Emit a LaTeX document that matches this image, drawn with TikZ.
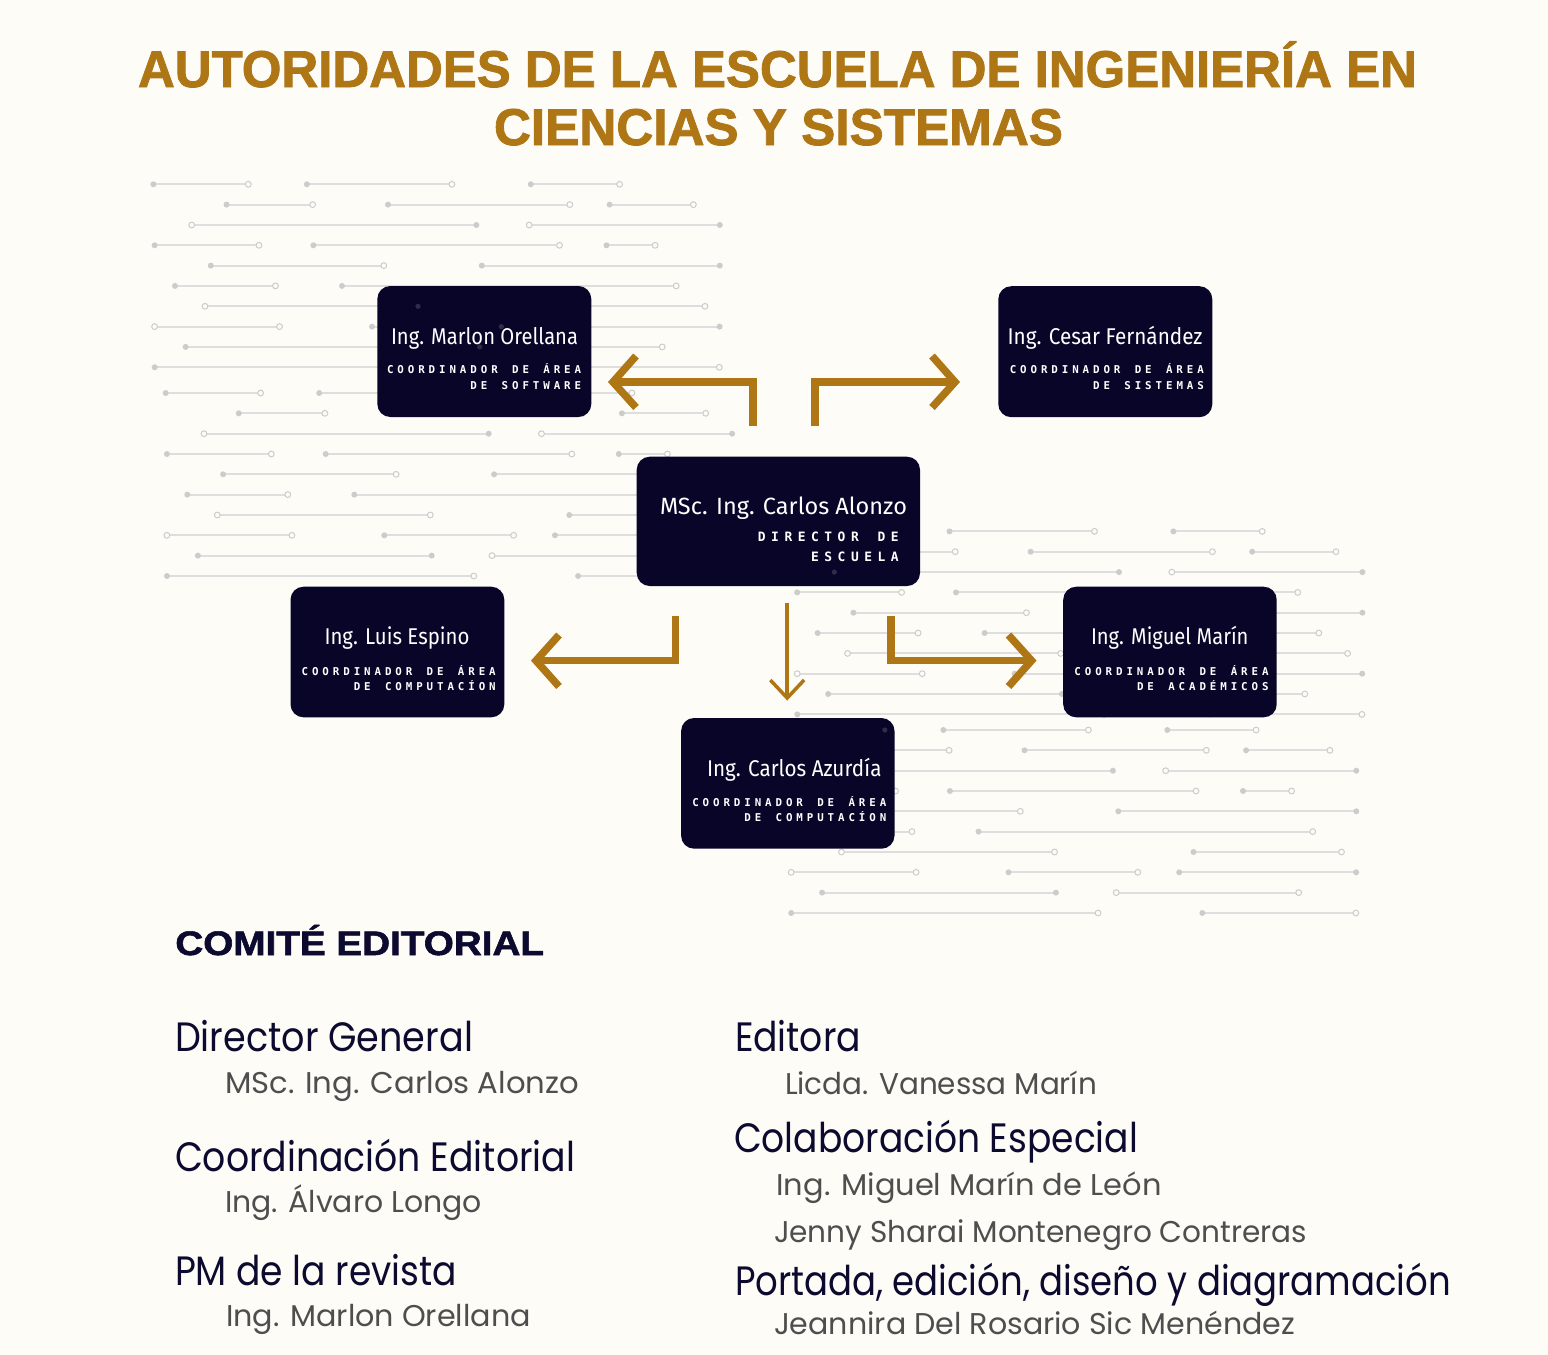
\documentclass[tikz,border=0pt]{standalone}
\usepackage{fontspec}
\usepackage{graphicx}
\newfontfamily\titlefont{Liberation Sans}[BoldFeatures={FakeBold=1.6}]
\newfontfamily\namefont{Fira Sans}
\newfontfamily\monofont{DejaVu Sans Mono}
\newfontfamily\bodyfont{Poppins}
\definecolor{bgcream}{RGB}{253,252,247}
\definecolor{titlegold}{RGB}{174,118,20}
\definecolor{boxnavy}{RGB}{9,5,41}
\definecolor{patline}{RGB}{222,222,222}
\definecolor{patdot}{RGB}{204,204,204}
\definecolor{ghostdot}{RGB}{46,44,72}
\definecolor{headnavy}{RGB}{12,10,46}
\definecolor{subgray}{RGB}{78,78,78}
\newsavebox\fitbox
\newcommand\fitw[2]{\sbox\fitbox{#2}\pgfmathsetmacro\fitfac{#1/\the\wd\fitbox}\scalebox{\fitfac}[1]{\usebox\fitbox}}
\ExplSyntaxOn
\NewDocumentCommand\monospaced{mm}{\str_map_inline:nn{#2}{\makebox[#1][c]{##1}}}
\ExplSyntaxOff
\newcommand\patF[2]{\fill[patdot] (#1,#2) circle[radius=3];}
\newcommand\patO[2]{\filldraw[draw=patdot,fill=bgcream,line width=1pt] (#1,#2) circle[radius=2.9];}
\newcommand\seg[5]{\draw[patline,line width=2pt] (#1,#5) -- (#3,#5);\csname pat#2\endcsname{#1}{#5}\csname pat#4\endcsname{#3}{#5}}
\newcommand\tile{%
\seg{153.4}{F}{248.3}{O}{184.3}\seg{306.9}{F}{451.9}{O}{184.3}\seg{530.8}{F}{619.6}{O}{184.3}%
\seg{226.5}{F}{312.6}{O}{204.6}\seg{388}{F}{569.8}{O}{204.6}\seg{609.6}{F}{693.4}{O}{204.6}%
\seg{191.7}{O}{476.4}{F}{225.0}\seg{529.2}{O}{719.8}{F}{225.0}%
\seg{154.6}{F}{259}{O}{245.3}\seg{313.4}{F}{559.5}{O}{245.3}\seg{606.5}{F}{655.1}{O}{245.3}%
\seg{210.8}{F}{383.8}{O}{265.6}\seg{481.8}{F}{719.8}{F}{265.6}%
\seg{175}{F}{275.5}{O}{285.9}\seg{342}{F}{676.2}{O}{285.9}%
\seg{205}{O}{418}{O}{306.3}\seg{557}{F}{705}{O}{306.3}%
\seg{154.6}{O}{279.6}{O}{326.6}\seg{372}{F}{501.3}{O}{326.6}\seg{542.7}{F}{719.6}{F}{326.6}%
\seg{185.6}{F}{419.4}{F}{346.9}\seg{479.7}{O}{662.2}{O}{346.9}%
\seg{154.7}{F}{461.5}{O}{367.3}\seg{565.8}{F}{719.3}{O}{367.3}%
}
\tikzset{
  every node/.style={inner sep=0pt,outer sep=0pt},
  orgbox/.style={fill=boxnavy,rounded corners=13pt,draw=none},
  nm/.style={anchor=base west,text=white,font={\namefont\fontsize{22.8}{26}\selectfont}},
  nmbig/.style={anchor=base west,text=white,font={\namefont\fontsize{23.5}{27}\selectfont}},
  rolesub/.style={text=white,font={\monofont\bfseries\fontsize{10.8}{12}\selectfont}},
  rolebig/.style={text=white,font={\monofont\bfseries\fontsize{12.9}{14}\selectfont}},
  garrow/.style={draw=titlegold,line width=7.5pt,line join=miter,miter limit=10},
  gthin/.style={draw=titlegold,line width=3.5pt,line join=miter,miter limit=10},
  ttl/.style={anchor=base west,text=titlegold,font={\titlefont\bfseries\fontsize{51.7}{60}\selectfont}},
  comite/.style={anchor=base west,text=headnavy,font={\titlefont\bfseries\fontsize{34}{40}\selectfont}},
  head/.style={anchor=base west,text=headnavy,font={\bodyfont\fontsize{41}{48}\selectfont}},
  subn/.style={anchor=base west,text=subgray,font={\bodyfont\fontsize{30}{36}\selectfont}},
}
\begin{document}
\begin{tikzpicture}[x=1pt,y=-1pt]
\useasboundingbox (0,0) rectangle (1548,1355);
\fill[bgcream] (0,0) rectangle (1548,1355);
% decorative pattern
\begin{scope}\tile\end{scope}
\begin{scope}[shift={(12.3,208.7)}]\tile\end{scope}
\begin{scope}[shift={(642.6,347.1)}]\tile\end{scope}
\begin{scope}[shift={(636.5,545.7)}]\tile\end{scope}
% title
\node[ttl] (title1) at (138,87) {\fitw{1279}{AUTORIDADES DE LA ESCUELA DE INGENIERÍA EN}};
\node[ttl] (title2) at (494,145) {\fitw{569}{CIENCIAS Y SISTEMAS}};
% boxes
\node[orgbox,minimum width=214pt,minimum height=131pt] (marlon) at (484.3,351.5) {};
\node[orgbox,minimum width=214pt,minimum height=131pt] (cesar) at (1105.3,351.7) {};
\node[orgbox,minimum width=283.3pt,minimum height=129.3pt] (director) at (778.35,521.35) {};
\node[orgbox,minimum width=213.8pt,minimum height=130.6pt] (luis) at (397.4,652) {};
\node[orgbox,minimum width=213.5pt,minimum height=130.6pt] (miguel) at (1169.95,652) {};
\node[orgbox,minimum width=213.4pt,minimum height=130.7pt] (azurdia) at (787.8,783.35) {};
% faint dots seen through boxes
\foreach \gx/\gy in {418/306.3,501.3/326.6,479.7/346.9,834.3/572.1,884.8/730}
  \fill[ghostdot] (\gx,\gy) circle[radius=2.6];
% names
\node[nm] (marlonname) at (391,344) {\fitw{187}{Ing. Marlon Orellana}};
\node[nm] (cesarname) at (1007.5,344) {\fitw{195}{Ing. Cesar Fernández}};
\node[nmbig] (directorname) at (660,514) {\fitw{247}{MSc. Ing. Carlos Alonzo}};
\node[nm] (luisname) at (324.5,644) {\fitw{145}{Ing. Luis Espino}};
\node[nm] (miguelname) at (1091,644) {\fitw{157.5}{Ing. Miguel Marín}};
\node[nm] (azurdianame) at (707,776.7) {\fitw{174.5}{Ing. Carlos Azurdía}};
% roles
\node[rolesub,anchor=base west] (marlonr1) at (385.1,373.7) {\monospaced{10.42pt}{COORDINADOR DE ÁREA}};
\node[rolesub,anchor=base east] (marlonr2) at (583.1,389.3) {\monospaced{10.42pt}{DE SOFTWARE}};
\node[rolesub,anchor=base west] (cesarr1) at (1007.8,373.3) {\monospaced{10.42pt}{COORDINADOR DE ÁREA}};
\node[rolesub,anchor=base east] (cesarr2) at (1205.8,389.3) {\monospaced{10.42pt}{DE SISTEMAS}};
\node[rolebig,anchor=base west] (directorr1) at (755.15,541.7) {\monospaced{13.3pt}{DIRECTOR DE}};
\node[rolebig,anchor=base east] (directorr2) at (901.45,561.7) {\monospaced{13.3pt}{ESCUELA}};
\node[rolesub,anchor=base west] (luisr1) at (299.7,675) {\monospaced{10.42pt}{COORDINADOR DE ÁREA}};
\node[rolesub,anchor=base east] (luisr2) at (497.7,690) {\monospaced{10.42pt}{DE COMPUTACÍON}};
\node[rolesub,anchor=base west] (miguelr1) at (1072.5,675) {\monospaced{10.42pt}{COORDINADOR DE ÁREA}};
\node[rolesub,anchor=base east] (miguelr2) at (1270.5,690) {\monospaced{10.42pt}{DE ACADÉMICOS}};
\node[rolesub,anchor=base west] (azurdiar1) at (690.3,806) {\monospaced{10.42pt}{COORDINADOR DE ÁREA}};
\node[rolesub,anchor=base east] (azurdiar2) at (888.3,821.7) {\monospaced{10.42pt}{DE COMPUTACÍON}};
% arrow coordinates
\coordinate (a1s) at (753,426); \coordinate (a1c) at (753,382); \coordinate (a1t) at (613,382);
\coordinate (a1u) at (636,356); \coordinate (a1d) at (636,407.5);
\coordinate (a2s) at (815,426); \coordinate (a2c) at (815,382); \coordinate (a2t) at (955,382);
\coordinate (a2u) at (932,356); \coordinate (a2d) at (932,407.5);
\coordinate (a3s) at (675.6,616); \coordinate (a3c) at (675.6,660.6); \coordinate (a3t) at (536,660.6);
\coordinate (a3u) at (559,635); \coordinate (a3d) at (559,686.5);
\coordinate (a5s) at (891,616); \coordinate (a5c) at (891,660.6); \coordinate (a5t) at (1031.5,660.6);
\coordinate (a5u) at (1008.5,635); \coordinate (a5d) at (1008.5,686.5);
\coordinate (a4s) at (787.2,602.7); \coordinate (a4t) at (787.2,698);
\coordinate (a4l) at (770.3,680); \coordinate (a4r) at (804.1,680);
% arrows
\draw[garrow] (a1s) -- (a1c) -- (a1t);
\draw[garrow] (a1u) -- (a1t) -- (a1d);
\draw[garrow] (a2s) -- (a2c) -- (a2t);
\draw[garrow] (a2u) -- (a2t) -- (a2d);
\draw[garrow] (a3s) -- (a3c) -- (a3t);
\draw[garrow] (a3u) -- (a3t) -- (a3d);
\draw[garrow] (a5s) -- (a5c) -- (a5t);
\draw[garrow] (a5u) -- (a5t) -- (a5d);
\draw[gthin] (a4s) -- (a4t);
\draw[gthin] (a4l) -- (a4t) -- (a4r);
% editorial committee
\node[comite] (comite) at (175.4,955) {\fitw{368.6}{COMITÉ EDITORIAL}};
\node[head] (dg) at (175,1051) {\fitw{298}{Director General}};
\node[subn] (dgn) at (225,1093) {\fitw{354}{MSc. Ing. Carlos Alonzo}};
\node[head] (ce) at (175,1171) {\fitw{400}{Coordinación Editorial}};
\node[subn] (cen) at (225,1212) {\fitw{257}{Ing. Álvaro Longo}};
\node[head] (pm) at (175,1285) {\fitw{282}{PM de la revista}};
\node[subn] (pmn) at (226,1326) {\fitw{305}{Ing. Marlon Orellana}};
\node[head] (ed) at (735,1051) {\fitw{126}{Editora}};
\node[subn] (edn) at (785,1094) {\fitw{312}{Licda. Vanessa Marín}};
\node[head] (co) at (734,1152) {\fitw{404}{Colaboración Especial}};
\node[subn] (con1) at (776.5,1195) {\fitw{385}{Ing. Miguel Marín de León}};
\node[subn] (con2) at (774,1242) {\fitw{533}{Jenny Sharai Montenegro Contreras}};
\node[head] (po) at (735,1295) {\fitw{716}{Portada, edición, diseño y diagramación}};
\node[subn] (pon) at (774,1334) {\fitw{521}{Jeannira Del Rosario Sic Menéndez}};
\end{tikzpicture}
\end{document}
